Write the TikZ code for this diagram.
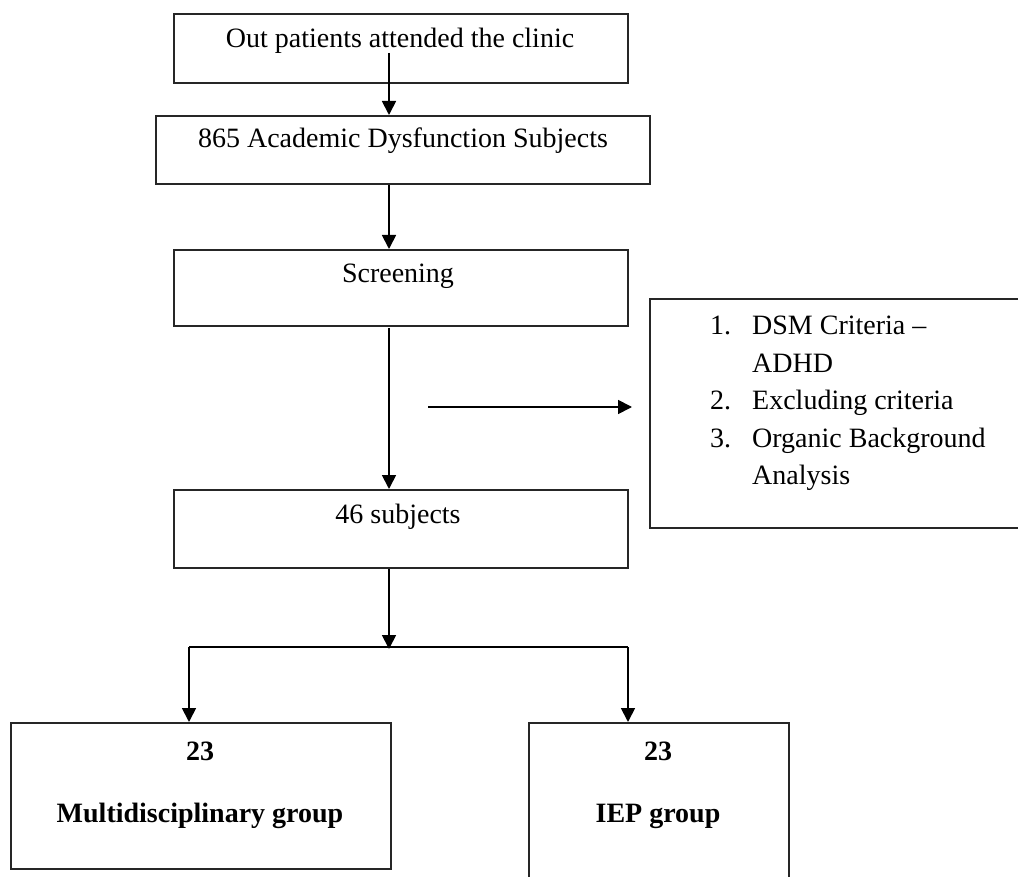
\documentclass[tikz,border=0pt]{standalone}
\usepackage{fontspec}
\setmainfont{Liberation Serif}
\usetikzlibrary{arrows.meta}
\begin{document}
\begin{tikzpicture}[x=1pt,y=-1pt,
  box/.style={draw=black!85, line width=2pt, rectangle, inner sep=0pt, anchor=north west},
  txt/.style={anchor=base, inner sep=0pt, font=\fontsize{28}{33.6}\selectfont},
  btxt/.style={anchor=base, inner sep=0pt, font=\fontsize{28}{33.6}\selectfont\bfseries},
  arr/.style={line width=1.8pt, -{Triangle[length=14pt,width=14pt]}},
  ln/.style={line width=1.8pt}]
\useasboundingbox (0,0) rectangle (1018,877);
\fill[white] (0,0) rectangle (1018,877);
% boxes
\node[box, minimum width=454pt, minimum height=69pt] (b1) at (173,13) {};
\node[box, minimum width=494pt, minimum height=68pt] (b2) at (155,115) {};
\node[box, minimum width=454pt, minimum height=76pt] (b3) at (173,249) {};
\node[box, minimum width=454pt, minimum height=78pt] (b4) at (173,489) {};
\node[box, minimum width=380pt, minimum height=229pt] (rb) at (649,298) {};
\node[box, minimum width=380pt, minimum height=146pt] (b5) at (10,722) {};
\node[box, minimum width=260pt, minimum height=170pt] (b6) at (528,722) {};
% texts
\node[txt] (t1) at (400,48) {Out patients attended the clinic};
\node[txt] (t2) at (403,148) {865 Academic Dysfunction Subjects};
\node[txt] (t3) at (398,283) {Screening};
\node[txt] (t4) at (398,523) {46 subjects};
\node[btxt] (t5a) at (200,760) {23};
\node[btxt] (t5b) at (200,822) {Multidisciplinary group};
\node[btxt] (t6a) at (658,760) {23};
\node[btxt] (t6b) at (658,822) {IEP group};
\node[anchor=base west, inner sep=0pt, font=\fontsize{28}{37.5}\selectfont] (list) at (710,335)
  {\begin{tabular}[t]{@{}p{42pt}@{}l@{}}1. & DSM Criteria –\\ & ADHD\\ 2. & Excluding criteria\\ 3. & Organic Background\\ & Analysis\end{tabular}};
% connectors
\coordinate (a1) at (389,53);
\draw[arr] (a1) -- (a1 |- b2.north);
\draw[arr] (b2.south -| a1) -- (b3.north -| a1);
\coordinate (a3) at (389,328);
\draw[arr] (a3) -- (b4.north -| a1);
\coordinate (h1) at (428,407);
\coordinate (h2) at (632,407);
\draw[arr] (h1) -- (h2);
\coordinate (br) at (389,647);
\draw[arr] (b4.south -| a1) -- ([yshift=-2pt]br);
\coordinate (bl) at (189,647);
\coordinate (bR) at (628,647);
\draw[ln] (bl) -- (bR);
\draw[arr] (bl) -- (bl |- b5.north);
\draw[arr] (bR) -- (bR |- b6.north);
\end{tikzpicture}
\end{document}
